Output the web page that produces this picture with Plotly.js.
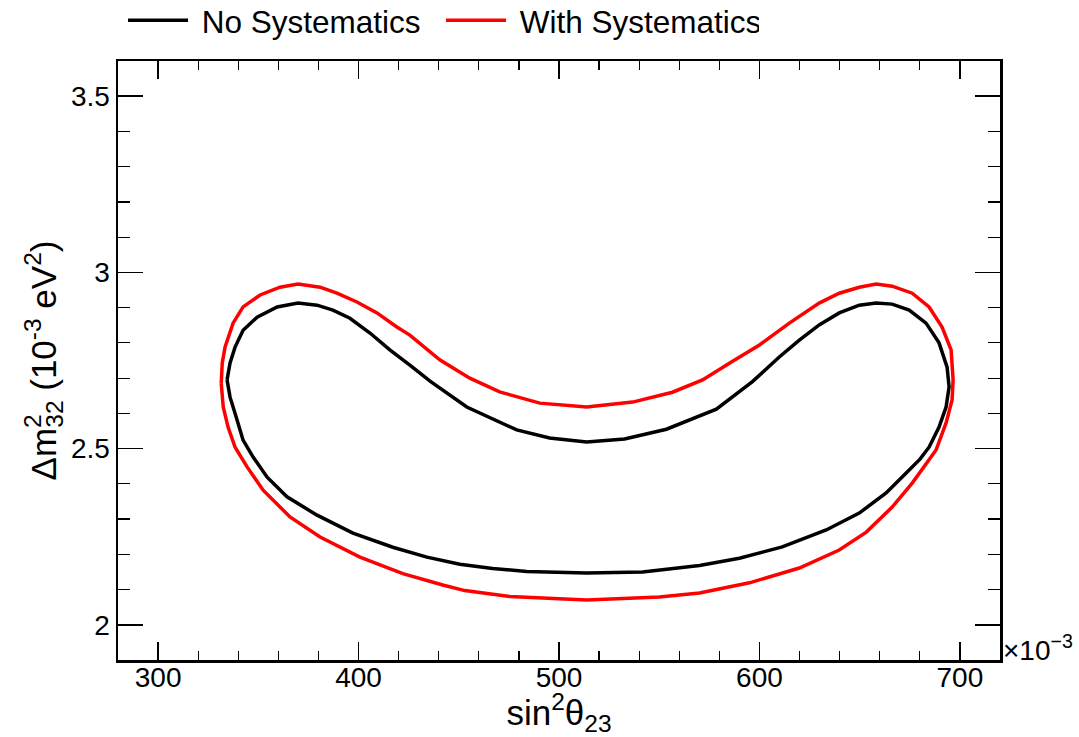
<!DOCTYPE html>
<html>
<head>
<meta charset="utf-8">
<script src="https://cdn.plot.ly/plotly-3.0.1.min.js"></script>
<style>html,body{margin:0;padding:0;background:#fff;}#chart{width:1079px;height:737px;}</style>
</head>
<body>
<div id="chart"></div>
<script>
// Contour: No Systematics (sin^2 theta23 in units of 1e-3, dm2_32 in 1e-3 eV^2)
const noSystX = [334.4, 335.9, 338.4, 342.4, 349.4, 359.4, 369.8, 379.3, 387.2, 395.7, 405.7, 415.6, 425.6, 436.0, 454.0, 478.9, 495.3, 513.8, 532.7, 553.6, 578.5, 596.5, 609.9, 619.9, 629.8, 639.8, 649.8, 658.2, 666.2, 674.7, 683.1, 689.6, 693.6, 694.6, 693.1, 689.6, 684.6, 680.1, 673.2, 663.2, 649.8, 633.3, 611.4, 590.0, 570.1, 541.7, 513.8, 483.9, 466.9, 450.5, 434.1, 417.1, 397.2, 379.3, 364.3, 354.4, 347.4, 342.4, 339.4, 335.9, 334.4];
const noSystY = [2.695, 2.743, 2.788, 2.836, 2.873, 2.902, 2.913, 2.907, 2.893, 2.870, 2.828, 2.780, 2.737, 2.690, 2.618, 2.553, 2.530, 2.519, 2.527, 2.555, 2.612, 2.690, 2.760, 2.808, 2.851, 2.885, 2.907, 2.913, 2.910, 2.893, 2.856, 2.800, 2.731, 2.675, 2.618, 2.561, 2.504, 2.470, 2.431, 2.374, 2.317, 2.269, 2.221, 2.189, 2.168, 2.150, 2.147, 2.151, 2.160, 2.172, 2.192, 2.220, 2.260, 2.311, 2.363, 2.419, 2.476, 2.524, 2.581, 2.646, 2.695];

// Contour: With Systematics
const withSystX = [331.5, 332.0, 333.4, 337.4, 342.4, 350.9, 360.8, 369.8, 380.8, 389.2, 399.2, 409.2, 419.1, 425.6, 440.5, 455.5, 470.4, 490.4, 513.8, 536.7, 556.6, 571.6, 586.0, 600.0, 614.9, 629.8, 639.8, 649.8, 658.2, 666.2, 676.2, 684.6, 691.1, 695.6, 696.6, 696.1, 693.1, 688.1, 684.6, 676.2, 666.2, 653.3, 639.8, 619.9, 595.0, 570.1, 550.1, 513.8, 475.4, 453.0, 442.0, 422.1, 400.7, 380.8, 365.8, 352.4, 344.4, 338.4, 334.9, 332.5, 331.5];
const withSystY = [2.685, 2.743, 2.788, 2.856, 2.902, 2.936, 2.958, 2.967, 2.958, 2.941, 2.916, 2.885, 2.845, 2.822, 2.752, 2.700, 2.661, 2.629, 2.618, 2.632, 2.660, 2.695, 2.746, 2.794, 2.856, 2.913, 2.941, 2.958, 2.967, 2.961, 2.941, 2.902, 2.845, 2.780, 2.695, 2.638, 2.573, 2.496, 2.468, 2.402, 2.334, 2.263, 2.212, 2.161, 2.119, 2.090, 2.079, 2.070, 2.080, 2.097, 2.113, 2.145, 2.192, 2.249, 2.306, 2.382, 2.448, 2.504, 2.561, 2.618, 2.685];

const seriesNames = ["No Systematics", "With Systematics"];
const xTickVals = [300, 400, 500, 600, 700];
const yTickVals = [2, 2.5, 3, 3.5];

const FONT = "Liberation Sans, Arial, Helvetica, sans-serif";

const traces = [
  {x: noSystX, y: noSystY, name: "\u00a0" + seriesNames[0], type: "scatter", mode: "lines",
   line: {color: "#000000", width: 3.5}},
  {x: withSystX, y: withSystY, name: "\u00a0" + seriesNames[1], type: "scatter", mode: "lines",
   line: {color: "#ff0000", width: 3.5}}
];

const axisCommon = {
  showline: true, linecolor: "#000", linewidth: 2.5, mirror: "allticks",
  ticks: "inside", tickcolor: "#000", tickwidth: 1.5,
  showgrid: false, zeroline: false,
  tickfont: {family: FONT, size: 28, color: "#000"}
};

const layout = {
  width: 1079, height: 737,
  margin: {l: 118, r: 79, t: 61, b: 77, pad: 0, autoexpand: false},
  paper_bgcolor: "#fff", plot_bgcolor: "#fff",
  showlegend: true,
  hovermode: false,
  legend: {orientation: "h", x: 0.0057, xanchor: "left", y: 1.068, yanchor: "middle",
    font: {family: FONT, size: 31.5, color: "#000"}, bgcolor: "rgba(0,0,0,0)", itemwidth: 60,
    entrywidth: 243, entrywidthmode: "pixels", traceorder: "normal"},
  xaxis: Object.assign({}, axisCommon, {
    range: [280, 720], tickvals: xTickVals, ticklen: 18, ticklabelstandoff: -9,
    minor: {dtick: 20, tick0: 0, ticks: "inside", ticklen: 9, tickcolor: "#000", tickwidth: 1.2},
    title: {text: "sin<sup>2</sup>θ<sub>23</sub>", font: {family: FONT, size: 35, color: "#000"}, standoff: 4}
  }),
  yaxis: Object.assign({}, axisCommon, {
    range: [1.9, 3.6], tickvals: yTickVals, ticklen: 25,
    minor: {dtick: 0.1, tick0: 0, ticks: "inside", ticklen: 12, tickcolor: "#000", tickwidth: 1.2},
    title: {text: "Δm<sup><span style=\"letter-spacing:-0.55em\">2</span></sup><sub>32</sub> (10<sup>-3</sup> eV<sup>2</sup>)", font: {family: FONT, size: 35, color: "#000"}, standoff: 4}
  }),
  annotations: [
    {xref: "paper", yref: "paper", x: 1.0, y: 0.0, xanchor: "left", yanchor: "middle",
     xshift: 1, yshift: 12, showarrow: false, text: "×10<sup>−3</sup>",
     font: {family: FONT, size: 28, color: "#000"}}
  ]
};

Plotly.newPlot("chart", traces, layout, {displayModeBar: false, staticPlot: true});
</script>
</body>
</html>
